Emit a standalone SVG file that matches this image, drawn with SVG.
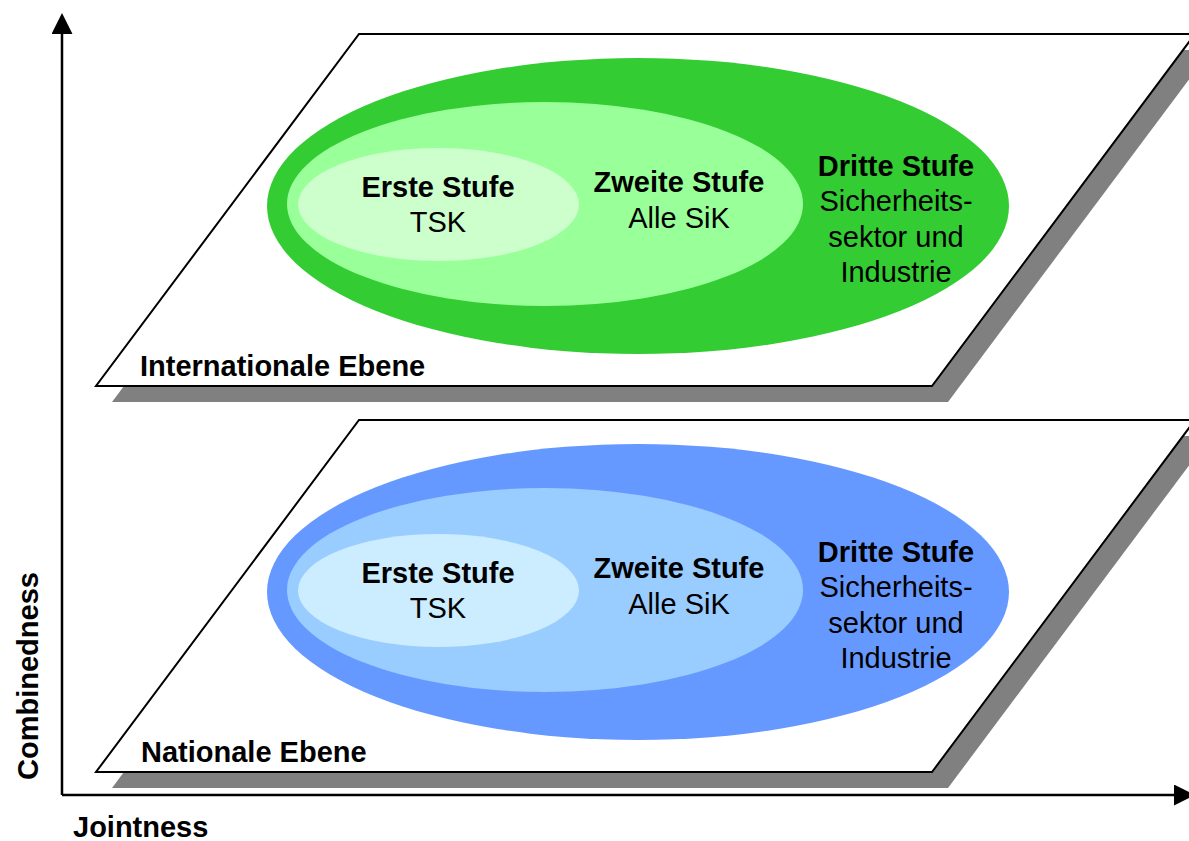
<svg xmlns="http://www.w3.org/2000/svg" width="1189" height="841" viewBox="0 0 1189 841">
<defs>
<style>
.plane{fill:#fff;stroke:#000;stroke-width:2}
.shadow{fill:#808080}
.b{font-family:"Liberation Sans",Arial,sans-serif;font-weight:bold;font-size:29px;fill:#000}
.r{font-family:"Liberation Sans",Arial,sans-serif;font-size:29px;fill:#000}
.axis{stroke:#000;stroke-width:2.5;fill:none}
</style>
<marker id="arr" viewBox="0 0 10 10" refX="0.5" refY="5" markerWidth="21" markerHeight="21" markerUnits="userSpaceOnUse" orient="auto">
<path d="M0,0 L10,5 L0,10 Z" fill="#000"/>
</marker>
</defs>
<rect width="1189" height="841" fill="#fff"/>

<g id="level-international">
<polygon class="shadow" points="112,402 948,402 1211,50 375,50"/>
<polygon class="plane" points="96,386 932,386 1195,34 359,34"/>
<ellipse cx="638" cy="206" rx="371" ry="148" fill="#33CC33"/>
<ellipse cx="545" cy="204" rx="258" ry="102" fill="#99FF99"/>
<ellipse cx="438.5" cy="204.5" rx="140.5" ry="56.5" fill="#CCFFCC"/>
<text class="b" x="438" y="197" text-anchor="middle">Erste Stufe</text>
<text class="r" x="438" y="232" text-anchor="middle">TSK</text>
<text class="b" x="679" y="192" text-anchor="middle">Zweite Stufe</text>
<text class="r" x="679" y="228" text-anchor="middle">Alle SiK</text>
<text class="b" x="896" y="176" text-anchor="middle">Dritte Stufe</text>
<text class="r" x="896" y="211" text-anchor="middle">Sicherheits-</text>
<text class="r" x="896" y="246.5" text-anchor="middle">sektor und</text>
<text class="r" x="896" y="281.5" text-anchor="middle">Industrie</text>
<text class="b" x="140" y="376">Internationale Ebene</text>
</g>

<g id="level-national">
<polygon class="shadow" points="112,788 948,788 1211,436 375,436"/>
<polygon class="plane" points="96,772 932,772 1195,420 359,420"/>
<ellipse cx="638" cy="592" rx="371" ry="148" fill="#6699FF"/>
<ellipse cx="545" cy="590" rx="258" ry="102" fill="#99CCFF"/>
<ellipse cx="438.5" cy="590.5" rx="140.5" ry="56.5" fill="#CCECFF"/>
<text class="b" x="438" y="583" text-anchor="middle">Erste Stufe</text>
<text class="r" x="438" y="618" text-anchor="middle">TSK</text>
<text class="b" x="679" y="578" text-anchor="middle">Zweite Stufe</text>
<text class="r" x="679" y="614" text-anchor="middle">Alle SiK</text>
<text class="b" x="896" y="562" text-anchor="middle">Dritte Stufe</text>
<text class="r" x="896" y="597" text-anchor="middle">Sicherheits-</text>
<text class="r" x="896" y="632.5" text-anchor="middle">sektor und</text>
<text class="r" x="896" y="667.5" text-anchor="middle">Industrie</text>
<text class="b" x="141" y="762">Nationale Ebene</text>
</g>

<g id="connectors">
<path class="axis" d="M62,795 L62,33" marker-end="url(#arr)"/>
<path class="axis" d="M62,795 L1175,795" marker-end="url(#arr)"/>
</g>

<g id="axis-labels">
<text class="b" x="73" y="837">Jointness</text>
<text class="b" transform="translate(38,676) rotate(-90)" text-anchor="middle">Combinedness</text>
</g>
</svg>
